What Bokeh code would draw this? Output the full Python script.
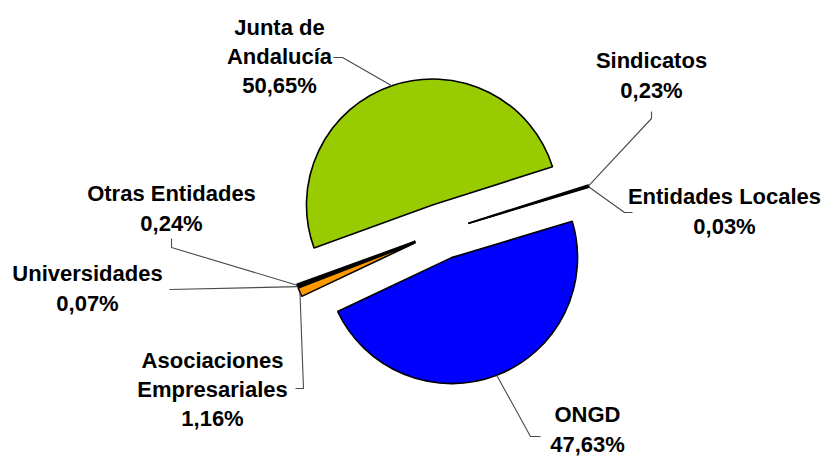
import numpy as np
from bokeh.plotting import figure
from bokeh.models import Range1d, ColumnDataSource
from bokeh.core.properties import value
from bokeh.embed import file_html
from bokeh.resources import INLINE

# ---------------- data ----------------
categories = ["Junta de Andalucía", "Sindicatos", "Entidades Locales", "ONGD",
              "Asociaciones Empresariales", "Universidades", "Otras Entidades"]
label_names = ["Junta de\nAndalucía", "Sindicatos", "Entidades Locales", "ONGD",
               "Asociaciones\nEmpresariales", "Universidades", "Otras Entidades"]
shares = [50.65, 0.23, 0.03, 47.63, 1.16, 0.07, 0.24]

# ---------------- styles / layout ----------------
colors = ["#99CC00", "#000000", "#000000", "#0000FF", "#FF9900", "#000000", "#000000"]
W, H = 823, 460          # figure size
CX, CY = 441, 231        # pie centre (px, y down)
R = 126                  # radius
EXPLODE = 28             # explosion distance
START_DEG = 200.0        # angle of first slice edge (math degrees, clockwise order)

# label block centres (px, y down)
label_pos = [(279, 56), (651, 75), (724, 211), (587, 429), (212, 389), (87, 288), (171, 208)]
# leader elbows (px, y down), from slice point toward label
elbows = [[(342, 57), (333, 57)],
          [(651, 118), (651, 111)],
          [(624, 212), (632, 212)],
          [(530, 436), (540, 436)],
          [(303, 388), (295, 388)],
          [(169, 289)],
          [(171, 247), (171, 238)]]

def ydata(ys):
    return H - ys

vals = np.array(shares, dtype=float)
frac = vals / vals.sum()
cum = np.concatenate([[0.0], np.cumsum(frac)]) * 2 * np.pi
a0 = np.deg2rad(START_DEG)
ends = a0 - cum[:-1]      # clockwise: slice i covers [a0-cum[i+1], a0-cum[i]]
starts = a0 - cum[1:]
mids = (starts + ends) / 2

cx_d, cy_d = CX, ydata(CY)
wx = cx_d + EXPLODE * np.cos(mids)
wy = cy_d + EXPLODE * np.sin(mids)

src = ColumnDataSource(dict(x=wx, y=wy, start=starts, end=ends, color=colors,
                            name=categories))

p = figure(width=W, height=H, output_backend="svg", toolbar_location=None,
           x_range=Range1d(0, W), y_range=Range1d(0, H),
           x_axis_type=None, y_axis_type=None, min_border=0)
p.outline_line_color = None
p.grid.visible = False
p.background_fill_color = "white"
p.border_fill_color = "white"

p.wedge(x="x", y="y", radius=R, start_angle="start", end_angle="end",
        direction="anticlock", fill_color="color", line_color="black",
        line_width=1.6, source=src)

# leader lines
xs, ys = [], []
for i in range(len(shares)):
    px = wx[i] + R * np.cos(mids[i])
    py = wy[i] + R * np.sin(mids[i])
    lx = [px] + [e[0] for e in elbows[i]]
    ly = [py] + [ydata(e[1]) for e in elbows[i]]
    xs.append(lx)
    ys.append(ly)
p.multi_line(xs=xs, ys=ys, line_color="#4a4a4a", line_width=1.1)

# labels
texts = [f"{n}\n{v:.2f}".replace(".", ",") + "%" for n, v in zip(label_names, shares)]
lsrc = ColumnDataSource(dict(x=[lp[0] for lp in label_pos],
                             y=[ydata(lp[1]) for lp in label_pos],
                             text=texts))
p.text(x="x", y="y", text="text", source=lsrc, text_font=value("Liberation Sans"),
       text_font_style="bold", text_font_size="22px", text_align="center",
       text_baseline="middle", text_line_height=1.17, text_color="black")

open("out.html", "w").write(file_html(p, INLINE))
